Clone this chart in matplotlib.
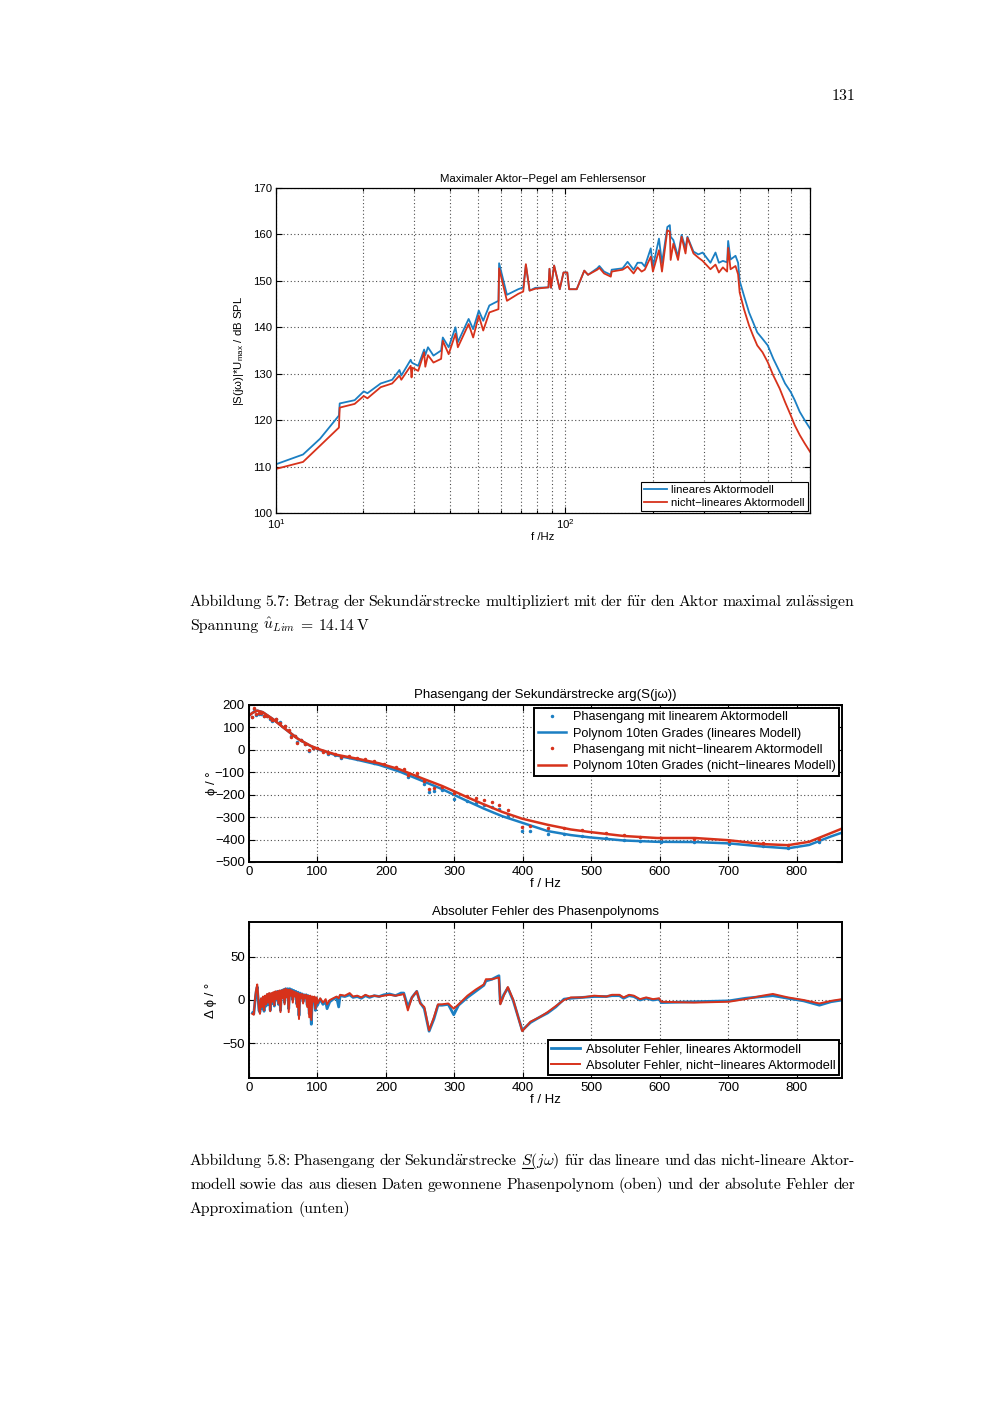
import matplotlib
matplotlib.use("Agg")
import matplotlib.pyplot as plt
from matplotlib.ticker import MultipleLocator, NullFormatter
from matplotlib.lines import Line2D

SANS = ["Liberation Sans", "DejaVu Sans"]
SERIF = ["cmr10", "DejaVu Serif"]
BLUE = "#1b7fc3"
RED = "#d7321b"
GRID = dict(ls=(0, (1, 2.2)), color="0.3", lw=0.8)

# --- Abb. 5.7: maximaler Aktor-Pegel ueber f (log) ---
F_PEGEL = [10, 12.4, 14.2, 16.5, 16.6, 18.7, 20.1, 20.7, 23.0, 25.2, 26.7, 27.1, 29.2, 29.4, 29.6,
           31.0, 32.5, 32.8, 33.5, 35.0, 37.2, 37.7, 39.5, 41.7, 42.5, 46.3, 48.0, 50.2, 52.0, 54.6,
           58.7, 59.0, 62.8, 68.7, 71.5, 73.0, 75.2, 78.7, 87.4, 88.1, 89.2, 91.4, 95.6, 98.5, 101.5,
           103, 109.4, 116.2, 119.7, 128.8, 131, 136, 143.5, 144.5, 157.6, 164, 172, 177.5, 183.4, 188,
           197.2, 200.6, 210.5, 215.6, 225, 229.5, 231, 236, 245, 252, 260, 264, 277, 288, 298,
           317, 330, 339, 350, 362, 365, 372, 387, 395, 400, 414, 431, 445, 460, 480, 500, 523, 550,
           574, 600, 620, 645, 671, 700]
PEGEL_LIN = [110.5, 112.6, 116.0, 121.0, 123.6, 124.3, 126.2, 125.8, 127.9, 128.7, 130.8, 129.6, 133.0, 132.5, 132.3,
             131.7, 135.2, 134.0, 135.7, 133.9, 135.0, 137.8, 135.7, 140.0, 136.8, 141.8, 139.6, 143.6, 141.4, 144.7,
             145.7, 153.8, 147.0, 148.2, 148.6, 153.4, 147.9, 148.5, 148.6, 152.6, 148.5, 153.3, 148.2, 151.8, 151.8,
             148.2, 148.2, 152.2, 151.3, 152.7, 153.2, 152.0, 151.3, 152.4, 152.7, 154.1, 152.4, 153.9, 153.9, 153.1,
             157.0, 153.0, 159.1, 153.8, 161.6, 162.0, 159.5, 158.8, 155.2, 159.9, 157.0, 159.5, 156.3, 155.7, 156.1,
             153.9, 156.1, 153.9, 154.3, 154.0, 158.6, 154.6, 155.4, 153.9, 150.0, 146.8, 143.2, 141.1, 138.9, 137.5,
             136.1, 133.2, 130.4, 127.9, 126.1, 124.3, 121.8, 120.0, 118.2]
PEGEL_NL = [109.5, 111.0, 114.5, 118.4, 122.7, 123.5, 125.2, 124.7, 127.1, 127.9, 129.6, 128.7, 131.7, 129.2, 131.3,
            130.6, 134.6, 131.5, 134.0, 132.4, 133.2, 137.1, 134.2, 138.6, 135.7, 140.7, 137.8, 142.5, 139.3, 143.2,
            143.9, 152.7, 145.7, 147.2, 147.7, 153.6, 147.9, 148.3, 148.6, 152.6, 148.5, 153.3, 148.2, 151.8, 151.8,
            148.2, 148.2, 152.2, 151.3, 152.4, 152.8, 151.6, 150.9, 152.0, 152.4, 153.1, 151.6, 152.9, 152.0, 152.4,
            155.2, 152.0, 156.6, 152.0, 160.9, 160.6, 154.5, 158.0, 154.5, 159.5, 155.9, 159.3, 155.9, 155.0, 154.3,
            152.5, 153.5, 151.8, 152.9, 152.0, 157.1, 152.5, 153.2, 151.4, 147.5, 143.9, 140.4, 138.2, 136.1, 134.6,
            132.5, 129.6, 126.8, 123.9, 121.1, 118.9, 116.8, 115.0, 113.2]

# --- Abb. 5.8 oben: Phasengang und Polynom ---
F_POLY = [0, 5, 12, 20, 35, 50, 72, 90, 103, 128, 159, 190, 220, 252, 282, 299, 320, 343, 370, 399,
          436, 470, 497, 547, 596, 651, 701, 750, 787, 818, 849, 866]
POLY_LIN = [152, 165, 175, 168, 137, 100, 48, 17, 0, -25, -45, -67, -97, -137, -175, -200, -230, -262, -296, -325,
            -362, -380, -390, -404, -410, -411, -417, -431, -439, -424, -387, -369]
POLY_NL = [152, 165, 175, 168, 137, 100, 48, 18, 2, -22, -40, -60, -87, -126, -161, -184, -213, -243, -277, -307,
           -334, -355, -366, -384, -393, -393, -403, -420, -425, -410, -372, -351]
F_PTS = [4, 7, 10, 14, 18, 22, 26, 30, 34, 40, 46, 52, 58, 61, 67, 70, 76, 82, 88, 94,
         100, 108, 116, 125, 135, 146, 158, 170, 183, 197, 214, 226, 232, 245, 256, 263, 270, 282, 299, 319,
         331, 343, 355, 365, 378, 399, 411, 436, 460, 487, 522, 547, 571, 602, 650, 701, 750, 787, 833, 866]
PH_LIN = [147, 183, 157, 161, 161, 149, 150, 138, 130, 137, 123, 105, 86, 62, 61, 34, 44, 24, -4, 8,
          9, -7, -17, -23, -38, -32, -41, -47, -57, -68, -86, -96, -119, -116, -152, -188, -182, -181, -217, -226,
          -236, -245, -253, -262, -290, -360, -364, -377, -374, -384, -394, -402, -407, -413, -413, -418, -427, -437, -411, -369]
PH_NL = [146, 185, 159, 163, 163, 151, 152, 140, 132, 138, 121, 107, 88, 59, 60, 30, 45, 26, 1, 10,
         10, -8, -14, -19, -30, -27, -35, -41, -50, -61, -76, -86, -112, -105, -138, -174, -168, -166, -194, -207,
         -216, -225, -234, -245, -270, -343, -341, -348, -349, -359, -372, -381, -388, -395, -396, -405, -415, -422, -396, -350]

# --- Abb. 5.8 unten: absoluter Fehler des Phasenpolynoms ---
F_ERR = [5, 7, 9, 10.5, 12, 13, 14.5, 16, 17.5, 19, 20.5, 22, 23.5, 25, 26.5, 28, 29.5, 31, 32.5, 34,
         35.5, 37, 38.5, 40, 41.5, 43, 44.5, 46, 47.5, 49, 50.5, 52, 53.5, 55, 56.5, 58, 59.5, 61, 62.5, 64,
         65.5, 67, 68.5, 70, 71.5, 73, 74.5, 76, 77.5, 79, 80.5, 82, 83.5, 85, 86.5, 88, 89.5, 91, 92.5, 94,
         95.5, 97, 98.5, 100,
         104, 108, 112, 114, 118, 123, 128, 131, 133, 140, 147, 152, 158, 164, 170, 176, 183, 190, 197, 205,
         214, 222, 226, 232, 238, 245, 250, 256, 263, 270, 276, 282, 291, 299, 306, 319, 331, 343, 346, 355,
         365, 367, 372, 378, 386, 399, 411, 424, 436, 448, 460, 470, 487, 504, 522, 530, 541, 547, 555, 562,
         571, 580, 590, 599, 602, 650, 701, 725, 750, 765, 787, 810, 833, 850, 866]
ERR_LIN = [-15, -16, 0, 10, 15, 5, -12, -14, 0, -10, 3, -13, 4, -7, 6, -5, 7, -12, 7, -4,
           8, -7, 9, 0, 10, -5, 10, -12, 11, 3, 12, -3, 13, 5, 13, -10, 13, 8, 12, 0,
           11, 6, 10, -5, 9, -18, 8, 4, 7, -2, 6, 3, 6, -6, 5, -16, 4, -28, 3, -3,
           3, -12, 2, -6,
           1, -5, -2, -10, -2, 1, 3, -8, 5, 4, 6, 3, 4, 2, 5, 3, 5, 4, 6, 7,
           5, 8, 8, -8, 3, 10, -3, -10, -36, -22, -6, -6, -5, -17, -6, 3, 10, 17, 22, 24,
           28, -4, 6, 14, -1, -35, -26, -20, -15, -8, 1, 2, 3, 4, 4, 5, 5, 2, 5, 4,
           0, 2, 0, 1, -3, -2, -1, 2, 4, 5, 2, -1, -6, -2, 0]
ERR_NL = [-16, -17, 3, 12, 18, 8, -10, -16, 2, -8, 4, -12, 5, -5, 7, -3, 8, -13, 8, -2,
          9, -6, 10, 1, 10, -4, 11, -14, 11, 2, 12, -5, 13, 3, 12, -14, 12, 5, 11, -3,
          10, 4, 9, -8, 8, -22, 7, 2, 7, -4, 6, 2, 6, -8, 5, -20, 5, -23, 4, -2,
          4, -10, 3, -4,
          2, -3, 1, -5, 0, 2, 4, 2, 6, 5, 8, 4, 5, 3, 6, 4, 5, 4, 5, 6,
          5, 6, 7, -12, 3, 10, -4, -8, -35, -20, -5, -5, -4, -10, -5, 5, 12, 18, 24, 24,
          26, -5, 5, 15, 0, -36, -25, -20, -14, -7, 0, 3, 3, 5, 4, 6, 6, 3, 6, 5,
          1, 3, 1, 2, -2, -3, -2, 1, 5, 7, 3, 0, -4, -1, 1]

CAP_57 = [
    ("Abbildung 5.7: Betrag der Sekundärstrecke multipliziert mit der für den Aktor maximal zulässigen".split(), True),
    (["Spannung", r"$\hat{u}_{Lim}$", "=", r"$14.14\,\mathrm{V}$"], False),
]
CAP_58 = [
    (["Abbildung", "5.8:", "Phasengang", "der", "Sekundärstrecke", r"$S(j\omega)$", "für", "das", "lineare",
      "und", "das", "nicht-lineare", "Aktor-"], True),
    ("modell sowie das aus diesen Daten gewonnene Phasenpolynom (oben) und der absolute Fehler der".split(), True),
    ("Approximation (unten)".split(), False),
]


def uml(word):
    # Umlaute als TeX-Akzente, damit sie in Computer Modern erscheinen
    return (word.replace("ä", r"$\ddot{\mathrm{a}}$")
                .replace("ü", r"$\ddot{\mathrm{u}}$"))


def style(ax, size, lw):
    ax.tick_params(which="both", direction="in", top=True, right=True, labelsize=size,
                   length=4, width=0.8, pad=3)
    ax.tick_params(which="minor", length=2.5)
    for s in ax.spines.values():
        s.set_linewidth(lw)


def caption(fig, lines, y0, size=11.3, x0=0.19, x1=0.855, lead=23.8):
    r = fig.canvas.get_renderer()
    fw, fh = fig.bbox.width, fig.bbox.height
    space = 5.0 / fw
    for i, (words, justify) in enumerate(lines):
        y = 1 - (y0 + i * lead) / fh
        items = []
        for w in words:
            t = fig.text(x0, y, uml(w), fontsize=size, family=SERIF, math_fontfamily="cm", va="baseline")
            items.append((w, t, t.get_window_extent(r).width / fw))
        total = sum(wd for _, _, wd in items)
        gap = (x1 - x0 - total) / (len(items) - 1) if justify else space
        x = x0
        for w, t, wd in items:
            t.set_x(x)
            if w == r"$S(j\omega)$":
                s = fig.text(0, 0, r"$S$", fontsize=size, math_fontfamily="cm")
                sw = s.get_window_extent(r).width / fw
                s.remove()
                fig.add_artist(Line2D([x + 0.001, x + sw], [y - 3.0 / fh] * 2, color="k", lw=0.8))
            x += wd + gap


def box_legend(ax, loc, size, lw, spacing):
    leg = ax.legend(loc=loc, fontsize=size, fancybox=False, framealpha=1, borderaxespad=0.2,
                    handlelength=2.2, borderpad=0.3, labelspacing=spacing, handletextpad=0.5)
    leg.get_frame().set_edgecolor("k")
    leg.get_frame().set_linewidth(lw)
    return leg


fig = plt.figure(figsize=(10, 14.14), dpi=100)
plt.rcParams["font.family"] = SANS
H = 1414.0

fig.text(0.855, 1 - 96 / H, "131", ha="right", va="center", fontsize=11.5, family=SERIF)

# ---------- Abb. 5.7 ----------
ax1 = fig.add_axes([0.276, 1 - 513 / H, 0.534, 325 / H])
ax1.semilogx(F_PEGEL, PEGEL_LIN, color=BLUE, lw=1.3, label="lineares Aktormodell")
ax1.semilogx(F_PEGEL, PEGEL_NL, color=RED, lw=1.3, label="nicht−lineares Aktormodell")
ax1.set_xlim(10, 700)
ax1.set_ylim(100, 170)
ax1.yaxis.set_major_locator(MultipleLocator(10))
ax1.xaxis.set_minor_formatter(NullFormatter())
ax1.grid(True, which="both", axis="x", **GRID)
ax1.grid(True, which="major", axis="y", **GRID)
style(ax1, 8.2, 0.9)
ax1.set_title("Maximaler Aktor−Pegel am Fehlersensor", fontsize=8.2, pad=4)
ax1.set_xlabel("f /Hz", fontsize=8.2, labelpad=1)
ax1.set_ylabel(r"|S(jω)|*U$_{\mathregular{max}}$ / dB SPL", fontsize=8.2, labelpad=5)
leg = ax1.legend(loc="lower right", fontsize=8.2, fancybox=False, framealpha=1, borderaxespad=0.15,
                 handlelength=2.0, borderpad=0.3, labelspacing=0.25, handletextpad=0.4)
leg.get_frame().set_edgecolor("k")
leg.get_frame().set_linewidth(0.8)

# ---------- Abb. 5.8 oben ----------
ax2 = fig.add_axes([0.249, 1 - 862 / H, 0.593, 157 / H])
ax2.plot(F_PTS, PH_LIN, ".", color=BLUE, ms=3, label="Phasengang mit linearem Aktormodell")
ax2.plot(F_POLY, POLY_LIN, color=BLUE, lw=1.8, label="Polynom 10ten Grades (lineares Modell)")
ax2.plot(F_PTS, PH_NL, ".", color=RED, ms=3, label="Phasengang mit nicht−linearem Aktormodell")
ax2.plot(F_POLY, POLY_NL, color=RED, lw=1.8, label="Polynom 10ten Grades (nicht−lineares Modell)")
ax2.set_xlim(0, 866)
ax2.set_ylim(-500, 200)
ax2.xaxis.set_major_locator(MultipleLocator(100))
ax2.yaxis.set_major_locator(MultipleLocator(100))
ax2.grid(True, **GRID)
style(ax2, 9.5, 1.4)
ax2.set_title("Phasengang der Sekundärstrecke arg(S(jω))", fontsize=9.5, pad=5)
ax2.set_xlabel("f / Hz", fontsize=9.5, labelpad=0)
ax2.set_ylabel("ϕ / °", fontsize=9.5, labelpad=-2)
box_legend(ax2, "upper right", 9.2, 1.4, 0.33)

# ---------- Abb. 5.8 unten ----------
ax3 = fig.add_axes([0.249, 1 - 1078 / H, 0.593, 156 / H])
ax3.plot(F_ERR, ERR_LIN, color=BLUE, lw=2.0, label="Absoluter Fehler, lineares Aktormodell")
ax3.plot(F_ERR, ERR_NL, color=RED, lw=1.4, label="Absoluter Fehler, nicht−lineares Aktormodell")
ax3.set_xlim(0, 866)
ax3.set_ylim(-90, 90)
ax3.xaxis.set_major_locator(MultipleLocator(100))
ax3.set_yticks([-50, 0, 50])
ax3.grid(True, **GRID)
style(ax3, 9.5, 1.4)
ax3.set_title("Absoluter Fehler des Phasenpolynoms", fontsize=9.5, pad=5)
ax3.set_xlabel("f / Hz", fontsize=9.5, labelpad=0)
ax3.set_ylabel("Δ ϕ / °", fontsize=9.5, labelpad=4)
box_legend(ax3, "lower right", 9.2, 1.4, 0.33)

caption(fig, CAP_57, 606)
caption(fig, CAP_58, 1165)

fig.savefig("out.png", dpi=100, facecolor="white")
